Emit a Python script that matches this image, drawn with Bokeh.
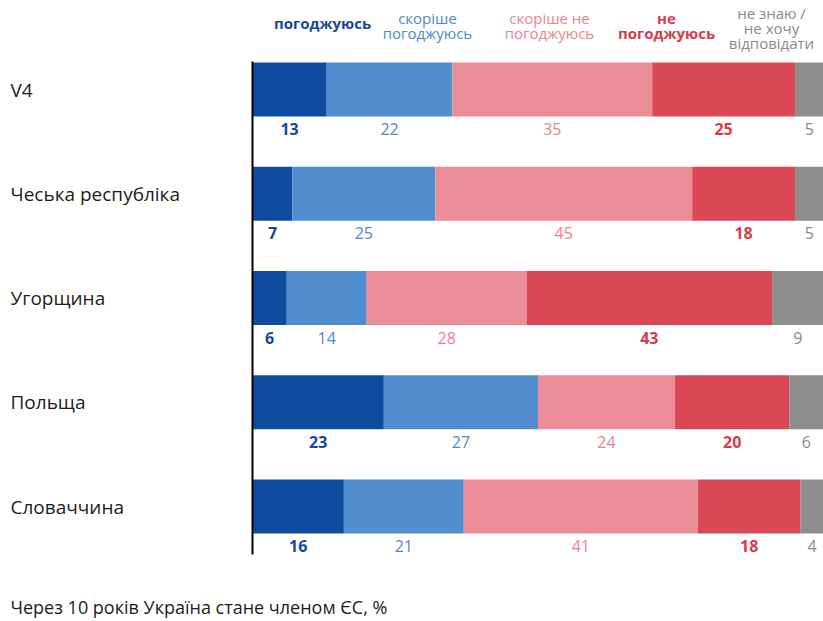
import numpy as np
from bokeh.plotting import figure
from bokeh.models import ColumnDataSource, Range1d
from bokeh.core.properties import value
from bokeh.embed import file_html
from bokeh.resources import INLINE

countries = ["V4", "Чеська республіка", "Угорщина", "Польща", "Словаччина"]
series = ["agree", "rather_agree", "rather_disagree", "disagree", "dont_know"]
agree = [13, 7, 6, 23, 16]
rather_agree = [22, 25, 14, 27, 21]
rather_disagree = [35, 45, 28, 24, 41]
disagree = [25, 18, 43, 20, 18]
dont_know = [5, 5, 9, 6, 4]
legend_labels = [
    ["погоджуюсь"],
    ["скоріше", "погоджуюсь"],
    ["скоріше не", "погоджуюсь"],
    ["не", "погоджуюсь"],
    ["не знаю /", "не хочу", "відповідати"],
]
footer = "Через 10 років Україна стане членом ЄС, %"

bar_colors = ["#0f4ca0", "#528ecf", "#ea8d97", "#da4855", "#8e8e8e"]
text_colors = ["#16479a", "#4f89cc", "#e9838f", "#d83a4b", "#8a8a8a"]

FONT = "Open Sans"
W, H = 823, 621
OFF = 0  # page offset of figure
X0 = 252 - OFF  # pixel of 0%
px_per = (823 - 252) / 100.0
x_left = -X0 / px_per
x_right = (W - X0) / px_per
row_px = 104.25
C0 = 89 - OFF
y_top = (0 - C0) / row_px
y_bot = (H - C0) / row_px


def xd(px):
    return (px - OFF - X0) / px_per


def yd(px):
    return (px - OFF - C0) / row_px


p = figure(width=W, height=H, output_backend="svg", toolbar_location=None,
           x_range=Range1d(x_left, x_right), y_range=Range1d(y_bot, y_top),
           min_border=0, outline_line_color=None)
p.xaxis.visible = False
p.yaxis.visible = False
p.xgrid.visible = False
p.ygrid.visible = False
p.background_fill_color = "white"

ys = list(range(len(countries)))
data = dict(y=ys, agree=agree, rather_agree=rather_agree,
            rather_disagree=rather_disagree, disagree=disagree, dont_know=dont_know)
src = ColumnDataSource(data)
p.hbar_stack(series, y="y", height=0.52, color=bar_colors, line_color=None, source=src)

# axis line
p.segment(x0=[0], y0=[yd(61)], x1=[0], y1=[yd(554)], line_color="black", line_width=2)

# value labels
vals = np.array([agree, rather_agree, rather_disagree, disagree, dont_know], dtype=float)
cum = np.cumsum(vals, axis=0)
centers = cum - vals / 2
for k in range(len(series)):
    p.text(x=list(centers[k]), y=[i + 0.38 for i in ys], text=[str(int(v)) for v in vals[k]],
           text_color=text_colors[k], text_font=value(FONT), text_font_size="16px",
           text_font_style="bold" if k in (0, 3) else "normal",
           text_align="center", text_baseline="middle")

# category labels
p.text(x=[xd(10)] * len(countries), y=ys, text=countries,
       text_color="#1c1c1c", text_font=value(FONT), text_font_size="19px",
       text_align="left", text_baseline="middle")

# legend header
leg_x = [322, 427, 549, 666, 771]
for k, lines in enumerate(legend_labels):
    n = len(lines)
    if n == 1:
        ypx = [22]
    elif n == 2:
        ypx = [17, 32]
    else:
        ypx = [12, 27, 42]
    p.text(x=[xd(leg_x[k])] * n, y=[yd(yy) for yy in ypx], text=lines,
           text_color=text_colors[k], text_font=value(FONT), text_font_size="15px",
           text_font_style="bold" if k in (0, 3) else "normal",
           text_align="center", text_baseline="middle")

# footer
p.text(x=[xd(10)], y=[yd(606)], text=[footer],
       text_color="#1c1c1c", text_font=value(FONT), text_font_size="18px",
       text_align="left", text_baseline="middle")

open("out.html", "w").write(file_html(p, INLINE))
